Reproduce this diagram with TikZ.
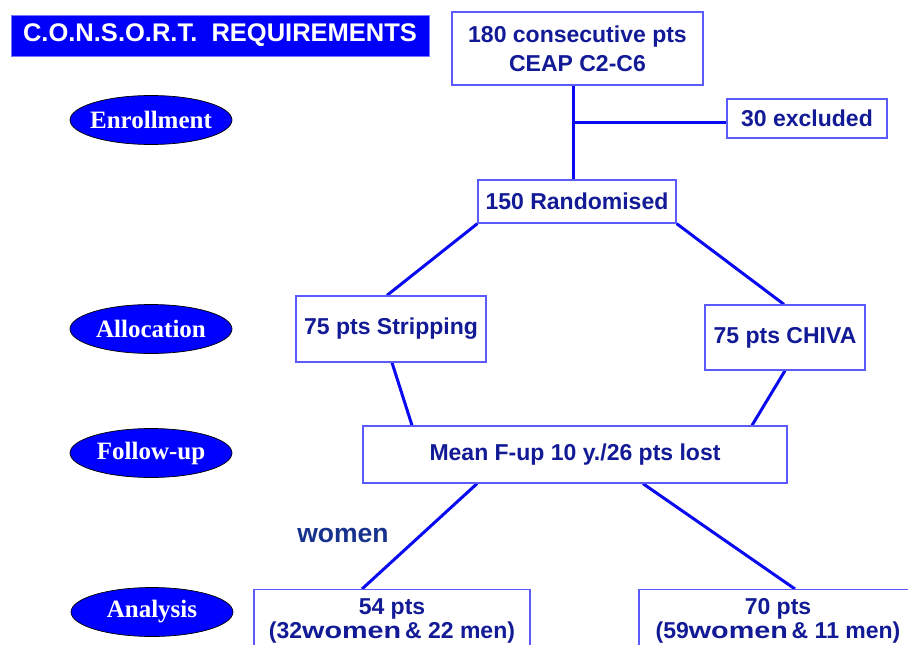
\documentclass[tikz,border=0pt]{standalone}
\usepackage{fontspec}
\usepackage{graphicx}
\setmainfont{Liberation Sans}
\newfontfamily\stageserif{Liberation Serif}
\usetikzlibrary{shapes.geometric,backgrounds}
\definecolor{navy}{RGB}{18,26,150}
\definecolor{womencol}{RGB}{22,50,140}
\definecolor{boxline}{RGB}{90,90,255}
\definecolor{linkblue}{RGB}{10,10,240}
\definecolor{stageblue}{RGB}{0,0,255}
\definecolor{titleblue}{RGB}{0,0,250}
\newcommand\widew[1]{\scalebox{1.25}[1]{#1}}
\begin{document}
\begin{tikzpicture}[x=1pt,y=-1pt,
  box/.style={draw=boxline, line width=1.3pt, fill=white, inner sep=0pt, text=navy,
    font=\fontsize{23}{29}\selectfont\bfseries, align=center},
  stage/.style={ellipse, draw=black, line width=0.7pt, fill=stageblue,
    minimum width=162pt, minimum height=49pt, inner xsep=-12pt, inner ysep=0pt, text=white,
    font=\stageserif\fontsize{25}{30}\selectfont\bfseries},
  titlebox/.style={draw={rgb,255:red,120;green,120;blue,255}, line width=0.8pt, fill=titleblue,
    minimum width=418pt, minimum height=41pt, inner sep=0pt, text=white,
    font=\fontsize{25.5}{30}\selectfont\bfseries},
  link/.style={draw=linkblue, line width=3pt}]
\useasboundingbox (0,0) rectangle (908,645);
\clip (0,0) rectangle (908,645);

\node[titlebox] (title) at (220,35.5) {C.O.N.S.O.R.T.\ \ REQUIREMENTS};

\node[box, minimum width=251pt, minimum height=73pt] (n180) at (577.5,48.5) {180 consecutive pts\\CEAP C2-C6};
\node[box, minimum width=160pt, minimum height=39pt] (excl) at (807,118.5) {30 excluded};
\node[box, minimum width=198pt, minimum height=43pt] (rand) at (577,201.5) {150 Randomised};
\node[box, minimum width=190pt, minimum height=66pt] (strip) at (391,329) {75 pts Stripping};
\node[box, minimum width=160pt, minimum height=65pt] (chiva) at (785,337.5) {75 pts CHIVA};
\node[box, minimum width=424pt, minimum height=57pt] (mean) at (575,454.5) {Mean F-up 10 y./26 pts lost};
\node[box, anchor=north, minimum width=276pt, inner ysep=9pt,
  font=\fontsize{23}{24}\selectfont\bfseries] (lbox) at (392,589) {54 pts\\(32\widew{women}\,\& 22 men)};
\node[box, anchor=north, minimum width=278pt, inner ysep=9pt,
  font=\fontsize{23}{24}\selectfont\bfseries] (rbox) at (778,589) {70 pts\\(59\widew{women}\,\& 11 men)};

\node[stage] (enr) at (151,120) {Enrollment};
\node[stage] (alloc) at (151,329) {Allocation};
\node[stage] (fup) at (151,453) {Follow-up};
\node[stage] (anal) at (152,612) {Analysis};

\node[text=womencol, font=\fontsize{26.5}{30}\selectfont\bfseries] (wlabel) at (343,535) {women};

\coordinate (trunk) at (573,122);
\begin{scope}[on background layer]
\draw[link] (trunk |- n180.south) -- (trunk |- rand.north);
\draw[link] (trunk) -- (trunk -| excl.west);
\draw[link] (rand.south west) -- ([xshift=-4pt]strip.north);
\draw[link] (rand.south east) -- ([xshift=-1pt]chiva.north);
\draw[link] ([xshift=1pt]strip.south) -- ([xshift=-163pt]mean.north);
\draw[link] (chiva.south) -- ([xshift=177pt]mean.north);
\draw[link] ([xshift=-98pt]mean.south) -- ([xshift=-30pt]lbox.north);
\draw[link] ([xshift=68pt]mean.south) -- ([xshift=17pt]rbox.north);
\end{scope}
\end{tikzpicture}
\end{document}
